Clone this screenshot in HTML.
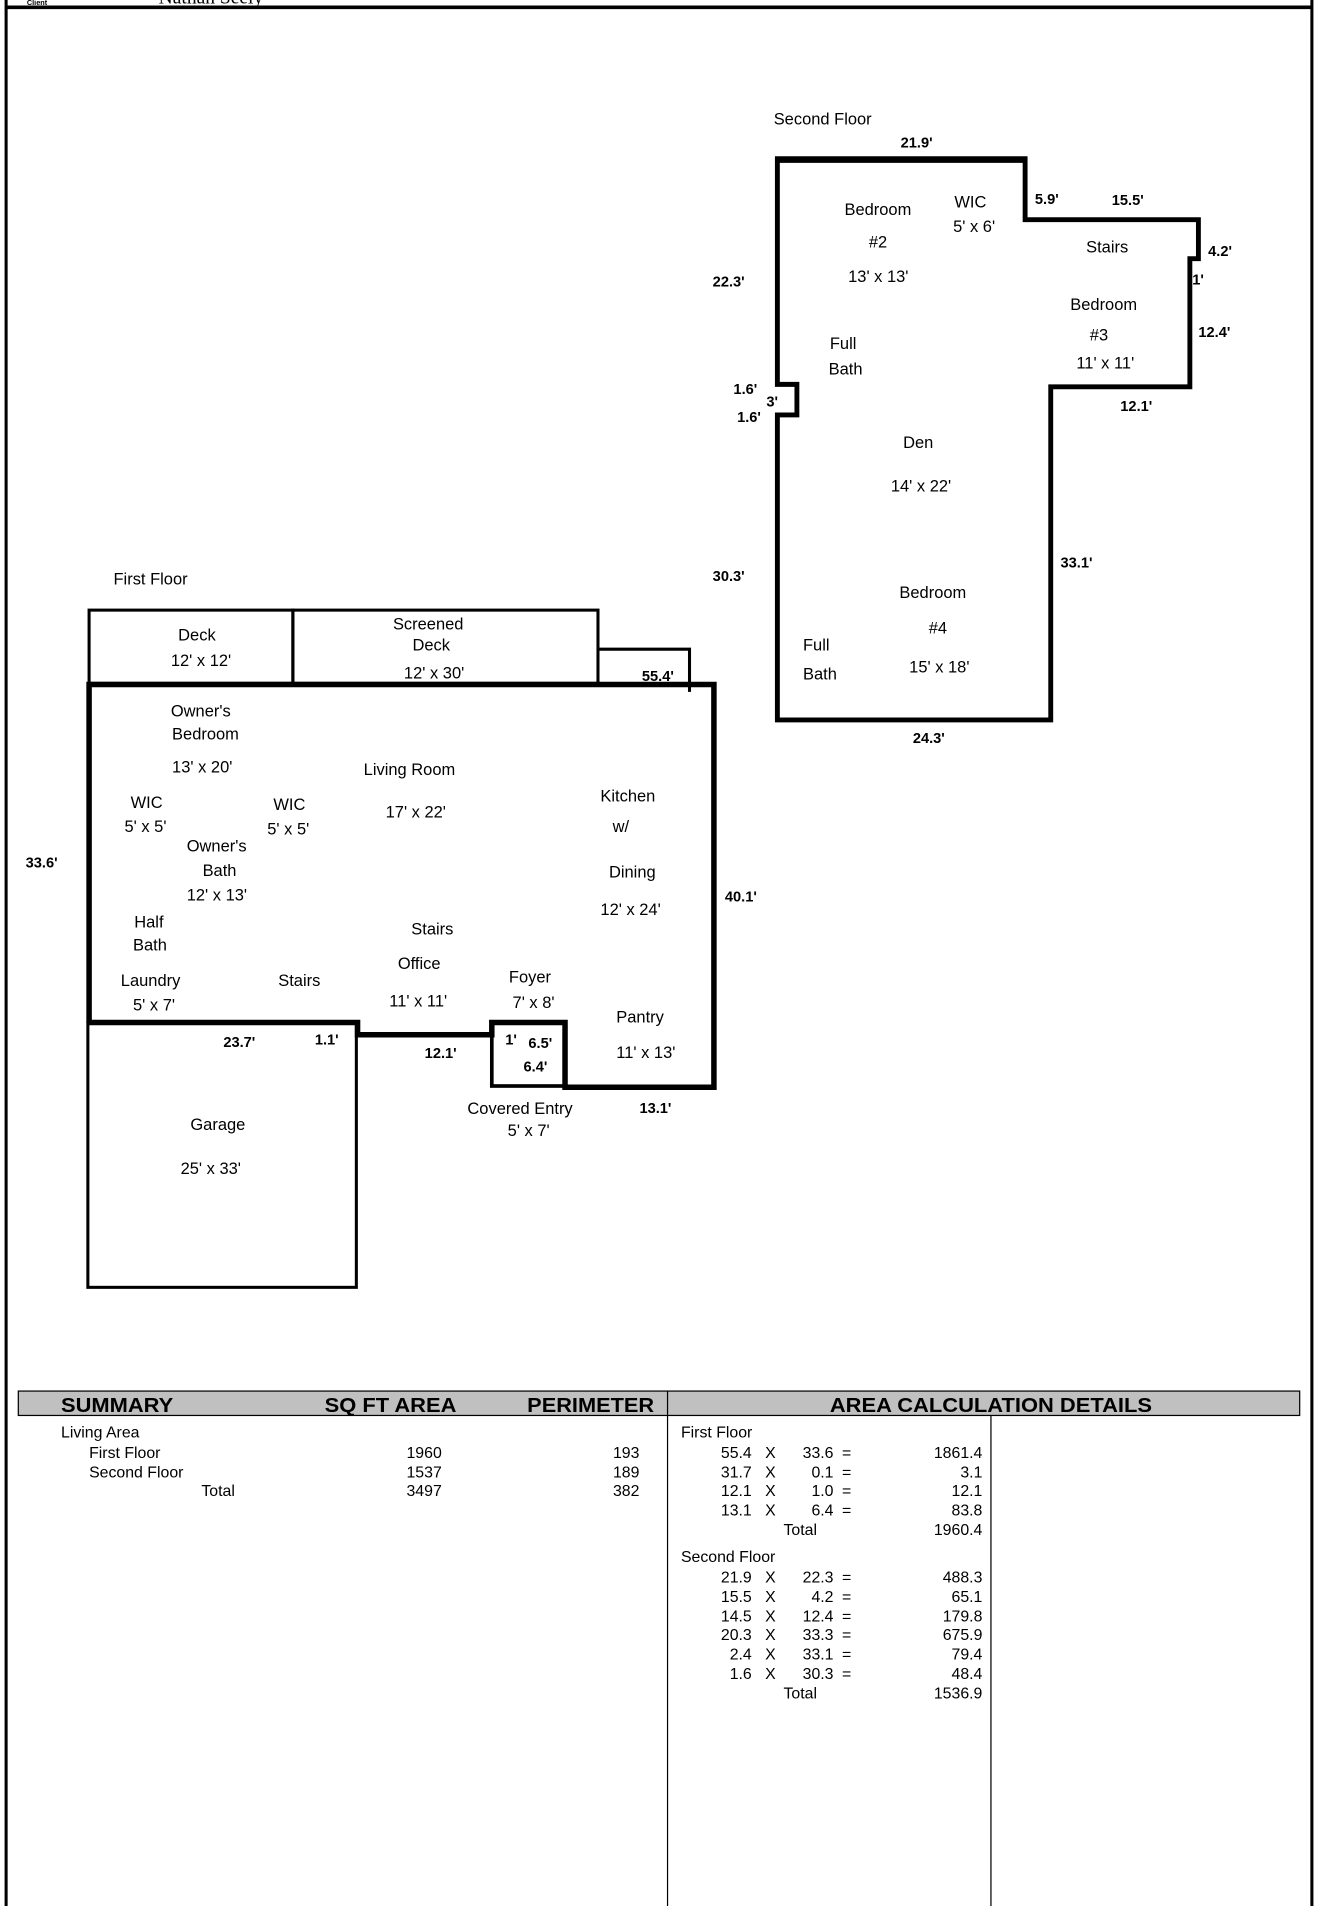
<!DOCTYPE html>
<html><head><meta charset="utf-8"><style>
html,body{margin:0;padding:0;background:#fff}
svg{display:block}
.t{font-family:"Liberation Sans",sans-serif;font-size:13.5px;fill:#000}
.d{font-family:"Liberation Sans",sans-serif;font-size:12px;font-weight:bold;fill:#000}
.h{font-family:"Liberation Sans Narrow","Liberation Sans",sans-serif;font-size:17px;font-weight:bold;fill:#000}
.n{font-family:"Liberation Sans Narrow","Liberation Sans",sans-serif;font-size:13px;fill:#000}
</style></head><body>
<svg width="1318" height="1906" viewBox="0 0 1080 1562" preserveAspectRatio="none" xmlns="http://www.w3.org/2000/svg">
<rect width="1080" height="1562" fill="#fff"/>
<line x1="5" y1="0" x2="5" y2="1562" stroke="#000" stroke-width="2.5"/>
<line x1="1075" y1="0" x2="1075" y2="1562" stroke="#000" stroke-width="2.5"/>
<line x1="5" y1="6" x2="1075" y2="6" stroke="#000" stroke-width="3"/>
<text x="22" y="4" font-family="Liberation Sans" font-size="6" font-weight="bold">Client</text>
<text x="130" y="3" font-family="Liberation Serif" font-size="16">Nathan Seely</text>

<text class="t" x="634" y="102">Second Floor</text>
<polygon points="637,130 840,130 840,180 982,180 982,212 975,212 975,317 861,317 861,590 637,590 637,340 653,340 653,315 637,315" fill="none" stroke="#000" stroke-width="4" stroke-linejoin="miter"/>
<line x1="637" y1="131" x2="840" y2="131" stroke="#000" stroke-width="5"/>
<text class="d" x="738" y="121">21.9'</text>
<text class="d" x="848" y="167">5.9'</text>
<text class="d" x="911" y="168">15.5'</text>
<text class="d" x="990" y="210">4.2'</text>
<text class="d" x="977" y="233">1'</text>
<text class="d" x="982" y="276">12.4'</text>
<text class="d" x="918" y="337">12.1'</text>
<text class="d" x="584" y="235">22.3'</text>
<text class="d" x="601" y="323">1.6'</text>
<text class="d" x="628" y="333">3'</text>
<text class="d" x="604" y="346">1.6'</text>
<text class="d" x="584" y="476">30.3'</text>
<text class="d" x="869" y="465">33.1'</text>
<text class="d" x="748" y="609">24.3'</text>
<text class="t" x="692" y="176">Bedroom</text>
<text class="t" x="712" y="203">#2</text>
<text class="t" x="695" y="231">13' x 13'</text>
<text class="t" x="782" y="170">WIC</text>
<text class="t" x="781" y="190">5' x 6'</text>
<text class="t" x="890" y="207">Stairs</text>
<text class="t" x="877" y="254">Bedroom</text>
<text class="t" x="893" y="279">#3</text>
<text class="t" x="882" y="302">11' x 11'</text>
<text class="t" x="680" y="286">Full</text>
<text class="t" x="679" y="307">Bath</text>
<text class="t" x="740" y="367">Den</text>
<text class="t" x="730" y="403">14' x 22'</text>
<text class="t" x="737" y="490">Bedroom</text>
<text class="t" x="761" y="519">#4</text>
<text class="t" x="745" y="551">15' x 18'</text>
<text class="t" x="658" y="533">Full</text>
<text class="t" x="658" y="557">Bath</text>

<text class="t" x="93" y="479">First Floor</text>
<rect x="73" y="500" width="167" height="60" fill="none" stroke="#000" stroke-width="2.5"/>
<rect x="240" y="500" width="250" height="60" fill="none" stroke="#000" stroke-width="2.5"/>
<polyline points="490,532 565,532 565,567" fill="none" stroke="#000" stroke-width="2.5"/>
<rect x="72" y="838" width="220" height="217" fill="none" stroke="#000" stroke-width="2.5"/>
<polyline points="73,838 73,561 585,561 585,891 463,891 463,838 403,838 403,848 293,848 293,838 73,838" fill="none" stroke="#000" stroke-width="4.5"/>
<rect x="403" y="838" width="60" height="52" fill="none" stroke="#000" stroke-width="3"/>
<text class="d" x="526" y="558">55.4'</text>
<text class="d" x="21" y="711">33.6'</text>
<text class="d" x="594" y="739">40.1'</text>
<text class="d" x="183" y="858">23.7'</text>
<text class="d" x="258" y="856">1.1'</text>
<text class="d" x="348" y="867">12.1'</text>
<text class="d" x="414" y="856">1'</text>
<text class="d" x="433" y="859">6.5'</text>
<text class="d" x="429" y="878">6.4'</text>
<text class="d" x="524" y="912">13.1'</text>
<text class="t" x="146" y="525">Deck</text>
<text class="t" x="140" y="546">12' x 12'</text>
<text class="t" x="322" y="516">Screened</text>
<text class="t" x="338" y="533">Deck</text>
<text class="t" x="331" y="556">12' x 30'</text>
<text class="t" x="140" y="587">Owner's</text>
<text class="t" x="141" y="606">Bedroom</text>
<text class="t" x="141" y="633">13' x 20'</text>
<text class="t" x="298" y="635">Living Room</text>
<text class="t" x="316" y="670">17' x 22'</text>
<text class="t" x="107" y="662">WIC</text>
<text class="t" x="102" y="682">5' x 5'</text>
<text class="t" x="224" y="664">WIC</text>
<text class="t" x="219" y="684">5' x 5'</text>
<text class="t" x="153" y="698">Owner's</text>
<text class="t" x="166" y="718">Bath</text>
<text class="t" x="153" y="738">12' x 13'</text>
<text class="t" x="492" y="657">Kitchen</text>
<text class="t" x="502" y="682">w/</text>
<text class="t" x="499" y="719">Dining</text>
<text class="t" x="492" y="750">12' x 24'</text>
<text class="t" x="110" y="760">Half</text>
<text class="t" x="109" y="779">Bath</text>
<text class="t" x="99" y="808">Laundry</text>
<text class="t" x="109" y="828">5' x 7'</text>
<text class="t" x="228" y="808">Stairs</text>
<text class="t" x="337" y="766">Stairs</text>
<text class="t" x="326" y="794">Office</text>
<text class="t" x="319" y="825">11' x 11'</text>
<text class="t" x="417" y="805">Foyer</text>
<text class="t" x="420" y="826">7' x 8'</text>
<text class="t" x="505" y="838">Pantry</text>
<text class="t" x="505" y="867">11' x 13'</text>
<text class="t" x="383" y="913">Covered Entry</text>
<text class="t" x="416" y="931">5' x 7'</text>
<text class="t" x="156" y="926">Garage</text>
<text class="t" x="148" y="962">25' x 33'</text>

<rect x="15" y="1140" width="1050" height="20" fill="#c0c0c0" stroke="#000" stroke-width="1"/>
<line x1="547" y1="1140" x2="547" y2="1562" stroke="#000" stroke-width="1"/>
<line x1="812" y1="1160" x2="812" y2="1562" stroke="#000" stroke-width="1"/>
<text class="h" x="50" y="1157" textLength="92" lengthAdjust="spacingAndGlyphs">SUMMARY</text>
<text class="h" x="266" y="1157" textLength="108" lengthAdjust="spacingAndGlyphs">SQ FT AREA</text>
<text class="h" x="432" y="1157" textLength="104" lengthAdjust="spacingAndGlyphs">PERIMETER</text>
<text class="h" x="680" y="1157" textLength="264" lengthAdjust="spacingAndGlyphs">AREA CALCULATION DETAILS</text>
<g class="n">
<text x="50" y="1178">Living Area</text>
<text x="73" y="1195">First Floor</text>
<text x="73" y="1211">Second Floor</text>
<text x="165" y="1226">Total</text>
<text x="362" y="1195" text-anchor="end">1960</text>
<text x="362" y="1211" text-anchor="end">1537</text>
<text x="362" y="1226" text-anchor="end">3497</text>
<text x="524" y="1195" text-anchor="end">193</text>
<text x="524" y="1211" text-anchor="end">189</text>
<text x="524" y="1226" text-anchor="end">382</text>
<text x="558" y="1178">First Floor</text>
<text x="558" y="1280">Second Floor</text>
</g>
<g class="n">
<text x="616" y="1195" text-anchor="end">55.4</text><text x="627" y="1195">X</text><text x="683" y="1195" text-anchor="end">33.6</text><text x="690" y="1195">=</text><text x="805" y="1195" text-anchor="end">1861.4</text>
<text x="616" y="1211" text-anchor="end">31.7</text><text x="627" y="1211">X</text><text x="683" y="1211" text-anchor="end">0.1</text><text x="690" y="1211">=</text><text x="805" y="1211" text-anchor="end">3.1</text>
<text x="616" y="1226" text-anchor="end">12.1</text><text x="627" y="1226">X</text><text x="683" y="1226" text-anchor="end">1.0</text><text x="690" y="1226">=</text><text x="805" y="1226" text-anchor="end">12.1</text>
<text x="616" y="1242" text-anchor="end">13.1</text><text x="627" y="1242">X</text><text x="683" y="1242" text-anchor="end">6.4</text><text x="690" y="1242">=</text><text x="805" y="1242" text-anchor="end">83.8</text>
<text x="642" y="1258">Total</text><text x="805" y="1258" text-anchor="end">1960.4</text>
<text x="616" y="1297" text-anchor="end">21.9</text><text x="627" y="1297">X</text><text x="683" y="1297" text-anchor="end">22.3</text><text x="690" y="1297">=</text><text x="805" y="1297" text-anchor="end">488.3</text>
<text x="616" y="1313" text-anchor="end">15.5</text><text x="627" y="1313">X</text><text x="683" y="1313" text-anchor="end">4.2</text><text x="690" y="1313">=</text><text x="805" y="1313" text-anchor="end">65.1</text>
<text x="616" y="1329" text-anchor="end">14.5</text><text x="627" y="1329">X</text><text x="683" y="1329" text-anchor="end">12.4</text><text x="690" y="1329">=</text><text x="805" y="1329" text-anchor="end">179.8</text>
<text x="616" y="1344" text-anchor="end">20.3</text><text x="627" y="1344">X</text><text x="683" y="1344" text-anchor="end">33.3</text><text x="690" y="1344">=</text><text x="805" y="1344" text-anchor="end">675.9</text>
<text x="616" y="1360" text-anchor="end">2.4</text><text x="627" y="1360">X</text><text x="683" y="1360" text-anchor="end">33.1</text><text x="690" y="1360">=</text><text x="805" y="1360" text-anchor="end">79.4</text>
<text x="616" y="1376" text-anchor="end">1.6</text><text x="627" y="1376">X</text><text x="683" y="1376" text-anchor="end">30.3</text><text x="690" y="1376">=</text><text x="805" y="1376" text-anchor="end">48.4</text>
<text x="642" y="1392">Total</text><text x="805" y="1392" text-anchor="end">1536.9</text>
</g>
</svg>
</body></html>
